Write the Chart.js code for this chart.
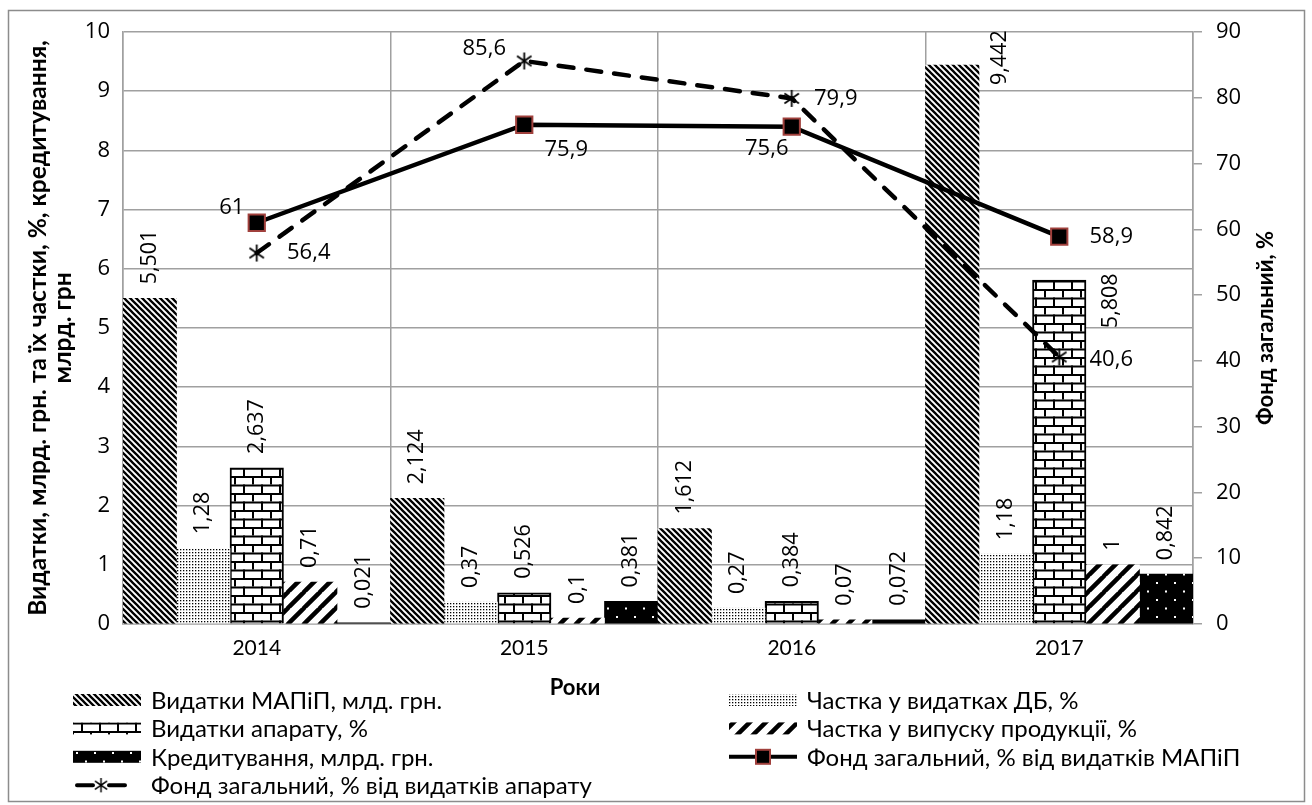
<!DOCTYPE html>
<html>
<head>
<meta charset="utf-8">
<script src="https://cdn.jsdelivr.net/npm/chart.js@4.4.1/dist/chart.umd.min.js"></script>
<style>
  html, body { margin: 0; padding: 0; background: #fff; }
  #wrap { width: 1312px; height: 805px; }
</style>
</head>
<body>
<div id="wrap"><canvas id="chart" width="1312" height="805"></canvas></div>
<script>
// --- data ---
var years = ['2014', '2015', '2016', '2017'];
var mapipSpend = [5.501, 2.124, 1.612, 9.442];      // Видатки МАПіП, млд. грн.
var budgetShare = [1.28, 0.37, 0.27, 1.18];         // Частка у видатках ДБ, %
var apparatusSpend = [2.637, 0.526, 0.384, 5.808];  // Видатки апарату, %
var outputShare = [0.71, 0.1, 0.07, 1];             // Частка у випуску продукції, %
var lending = [0.021, 0.381, 0.072, 0.842];         // Кредитування, млрд. грн.
var fundOfMapip = [61, 75.9, 75.6, 58.9];           // Фонд загальний, % від видатків МАПіП
var fundOfApparatus = [56.4, 85.6, 79.9, 40.6];     // Фонд загальний, % від видатків апарату
var leftTicks = [0, 1, 2, 3, 4, 5, 6, 7, 8, 9, 10];
var rightTicks = [0, 10, 20, 30, 40, 50, 60, 70, 80, 90];

var GRID = '#a0a0a0';
var NUM_FONT = "'Open Sans', 'DejaVu Sans', sans-serif";
var TXT_FONT = "Lato, Roboto, 'Noto Sans', sans-serif";

var canvas = document.getElementById('chart');
var ctx0 = canvas.getContext('2d');

function tile(w, h, bg, draw) {
    var c = document.createElement('canvas');
    c.width = w; c.height = h;
    var g = c.getContext('2d');
    g.fillStyle = bg;
    g.fillRect(0, 0, w, h);
    draw(g, w, h);
    return ctx0.createPattern(c, 'repeat');
}

// dense "\\\" hatching
var hatchBack = tile(6, 6, '#fff', function (g, w, h) {
    g.strokeStyle = '#000'; g.lineWidth = 2.3;
    g.beginPath();
    for (var k = -1; k <= 1; k++) { g.moveTo(k * w - 1, -1); g.lineTo(k * w + w + 1, h + 1); }
    g.stroke();
});
// fine dots
var dots = tile(3, 3, '#fff', function (g) {
    g.fillStyle = '#000'; g.fillRect(0, 0, 1.3, 1.3);
});
// bricks
var bricks = tile(18, 17, '#fff', function (g) {
    g.fillStyle = '#000';
    g.fillRect(0, 0, 18, 2);
    g.fillRect(0, 8.5, 18, 2);
    g.fillRect(0, 0, 2, 8.5);
    g.fillRect(9, 8.5, 2, 8.5);
});
// wide "///" stripes
var hatchWide = tile(16, 16, '#fff', function (g, w, h) {
    g.strokeStyle = '#000'; g.lineWidth = 4.5;
    g.beginPath();
    for (var k = -1; k <= 1; k++) { g.moveTo(k * w - 1, h + 1); g.lineTo(k * w + w + 1, -1); }
    g.stroke();
});
// black with white dots
var darkDots = tile(18, 17, '#000', function (g) {
    g.fillStyle = '#fff';
    g.fillRect(4, 4, 2, 2);
    g.fillRect(13, 12.5, 2, 2);
});

function makeStar(size) {
    var c = document.createElement('canvas');
    c.width = size; c.height = size;
    var g = c.getContext('2d');
    var m = size / 2, r = size / 2 - 1;
    g.strokeStyle = '#000'; g.lineWidth = 1.8;
    g.beginPath();
    g.moveTo(m, m - r); g.lineTo(m, m + r);
    g.moveTo(m - r * 0.85, m - r * 0.6); g.lineTo(m + r * 0.85, m + r * 0.6);
    g.moveTo(m - r * 0.85, m + r * 0.6); g.lineTo(m + r * 0.85, m - r * 0.6);
    g.stroke();
    return c;
}
var star = makeStar(19);

function fmt(v) { return String(v).replace('.', ','); }

// label nudges for the two 2017 bar labels that Excel moved, and line label offsets
var barLabelNudge = { '0-3': [48, 34], '2-3': [52, 62] };
var lineLabelOffset = [
    [[-25, -15], [42, 25], [-25, 22], [52, 0]],
    [[52, 0], [-40, -12], [44, 0], [52, 3]]
];

var labelsPlugin = {
    id: 'valueLabels',
    afterDatasetsDraw: function (chart) {
        var ctx = chart.ctx;
        ctx.save();
        ctx.fillStyle = '#000';
        chart.data.datasets.forEach(function (ds, di) {
            var meta = chart.getDatasetMeta(di);
            if (ds.type !== 'line') {
                ctx.font = '21.5px ' + NUM_FONT;
                meta.data.forEach(function (el, i) {
                    var n = barLabelNudge[di + '-' + i] || [0, 0];
                    ctx.save();
                    ctx.translate(el.x + n[0], el.y - 14 + n[1]);
                    ctx.rotate(-Math.PI / 2);
                    ctx.textAlign = 'left';
                    ctx.textBaseline = 'middle';
                    ctx.fillText(fmt(ds.data[i]), 0, 0);
                    ctx.restore();
                });
            } else {
                var off = lineLabelOffset[di - 5];
                ctx.font = '22px ' + NUM_FONT;
                ctx.textAlign = 'center';
                ctx.textBaseline = 'middle';
                meta.data.forEach(function (el, i) {
                    ctx.fillText(fmt(ds.data[i]), el.x + off[i][0], el.y + off[i][1]);
                });
            }
        });
        ctx.restore();
    }
};

function drawSwatch(ctx, ds, x, y, w) {
    if (ds.type === 'line') {
        ctx.save();
        ctx.strokeStyle = '#000';
        ctx.lineWidth = 4;
        if (ds.borderDash) {
            ctx.lineCap = 'round';
            ctx.beginPath();
            ctx.moveTo(x + 4, y); ctx.lineTo(x + 20, y);
            ctx.moveTo(x + 36, y); ctx.lineTo(x + 52, y);
            ctx.stroke();
            ctx.drawImage(star, x + 28 - 8, y - 8, 16, 16);
        } else {
            ctx.beginPath();
            ctx.moveTo(x, y); ctx.lineTo(x + w, y);
            ctx.stroke();
            ctx.fillStyle = '#000';
            ctx.strokeStyle = ds.pointBorderColor;
            ctx.lineWidth = 2;
            ctx.fillRect(x + w / 2 - 7, y - 7, 14, 14);
            ctx.strokeRect(x + w / 2 - 7, y - 7, 14, 14);
        }
        ctx.restore();
    } else {
        ctx.fillStyle = ds.backgroundColor;
        ctx.fillRect(x, y - 6, w, 12);
    }
}

var framePlugin = {
    id: 'frame',
    beforeDraw: function (chart) {
        var ctx = chart.ctx;
        ctx.save();
        ctx.fillStyle = '#fff';
        ctx.fillRect(0, 0, chart.width, chart.height);
        ctx.restore();
    },
    afterDraw: function (chart) {
        var ctx = chart.ctx;
        var area = chart.chartArea;
        ctx.save();
        // outer border
        ctx.strokeStyle = '#8c8c8c';
        ctx.lineWidth = 1.5;
        ctx.strokeRect(8.5, 10.5, 1296, 791);

        // right axis title
        ctx.fillStyle = '#000';
        ctx.font = 'bold 22px ' + TXT_FONT;
        ctx.textAlign = 'center';
        ctx.textBaseline = 'middle';
        ctx.save();
        ctx.translate(1266, (area.top + area.bottom) / 2);
        ctx.rotate(-Math.PI / 2);
        ctx.fillText('Фонд загальний, %', 0, 0);
        ctx.restore();

        // x axis title
        ctx.fillText('Роки', 575, 688);

        // legend, two columns
        ctx.font = '24px ' + TXT_FONT;
        ctx.textAlign = 'left';
        chart.data.datasets.forEach(function (ds, i) {
            var col = i % 2, row = Math.floor(i / 2);
            var x = col === 0 ? 73 : 729;
            var y = 700 + row * 28.4;
            drawSwatch(ctx, ds, x, y, 68);
            ctx.fillStyle = '#000';
            ctx.fillText(ds.label, x + 78, y + 1);
        });
        ctx.restore();
    }
};

var chart = new Chart(canvas, {
    type: 'bar',
    data: {
        labels: years,
        datasets: [
            { label: 'Видатки МАПіП, млд. грн.', data: mapipSpend, backgroundColor: hatchBack, borderWidth: 0, yAxisID: 'y', order: 2 },
            { label: 'Частка у видатках ДБ, %', data: budgetShare, backgroundColor: dots, borderWidth: 0, yAxisID: 'y', order: 2 },
            { label: 'Видатки апарату, %', data: apparatusSpend, backgroundColor: bricks, borderColor: '#000', borderWidth: 2, yAxisID: 'y', order: 2 },
            { label: 'Частка у випуску продукції, %', data: outputShare, backgroundColor: hatchWide, borderWidth: 0, yAxisID: 'y', order: 2 },
            { label: 'Кредитування, млрд. грн.', data: lending, backgroundColor: darkDots, borderWidth: 0, yAxisID: 'y', order: 2 },
            {
                type: 'line', label: 'Фонд загальний, % від видатків МАПіП', data: fundOfMapip, yAxisID: 'y2', order: 1,
                borderColor: '#000', borderWidth: 4.5, fill: false, tension: 0,
                pointStyle: 'rect', pointRadius: 11.5, pointBackgroundColor: '#000',
                pointBorderColor: '#a0403c', pointBorderWidth: 2
            },
            {
                type: 'line', label: 'Фонд загальний, % від видатків апарату', data: fundOfApparatus, yAxisID: 'y2', order: 0,
                borderColor: '#000', borderWidth: 4.5, borderDash: [15, 13], borderCapStyle: 'round', fill: false, tension: 0,
                pointStyle: star, pointRadius: 9
            }
        ]
    },
    options: {
        responsive: false,
        animation: false,
        devicePixelRatio: 1,
        layout: { padding: { top: 32, left: 0, right: 0, bottom: 0 } },
        datasets: { bar: { categoryPercentage: 1, barPercentage: 1 } },
        plugins: { legend: { display: false }, tooltip: { enabled: false } },
        scales: {
            x: {
                grid: { color: GRID, lineWidth: 1.5, drawTicks: false, offset: true },
                border: { color: GRID, width: 1.5 },
                ticks: { padding: 12, color: '#000', font: { family: TXT_FONT, size: 21 } },
                afterFit: function (s) { s.height = 181; }
            },
            y: {
                position: 'left', min: 0, max: 10,
                afterBuildTicks: function (s) { s.ticks = leftTicks.map(function (v) { return { value: v }; }); },
                grid: { color: GRID, lineWidth: 1.5, drawTicks: false },
                border: { color: GRID, width: 1.5 },
                ticks: { padding: 13, color: '#000', font: { family: NUM_FONT, size: 22 } },
                title: {
                    display: true, color: '#000',
                    text: ['Видатки, млрд. грн. та їх частки, %, кредитування,', 'млрд. грн'],
                    font: { family: TXT_FONT, size: 24.5, weight: 'bold', lineHeight: 1.05 },
                    padding: { top: 25, bottom: 0 }
                },
                afterFit: function (s) { s.width = 123; }
            },
            y2: {
                position: 'right', min: 0, max: 90,
                afterBuildTicks: function (s) { s.ticks = rightTicks.map(function (v) { return { value: v }; }); },
                grid: { drawOnChartArea: false, color: GRID, lineWidth: 1.5, tickLength: 9 },
                border: { color: GRID, width: 1.5 },
                ticks: { padding: 14, color: '#000', font: { family: NUM_FONT, size: 22 } },
                afterFit: function (s) { s.width = 119; }
            }
        }
    },
    plugins: [labelsPlugin, framePlugin]
});
</script>
</body>
</html>
